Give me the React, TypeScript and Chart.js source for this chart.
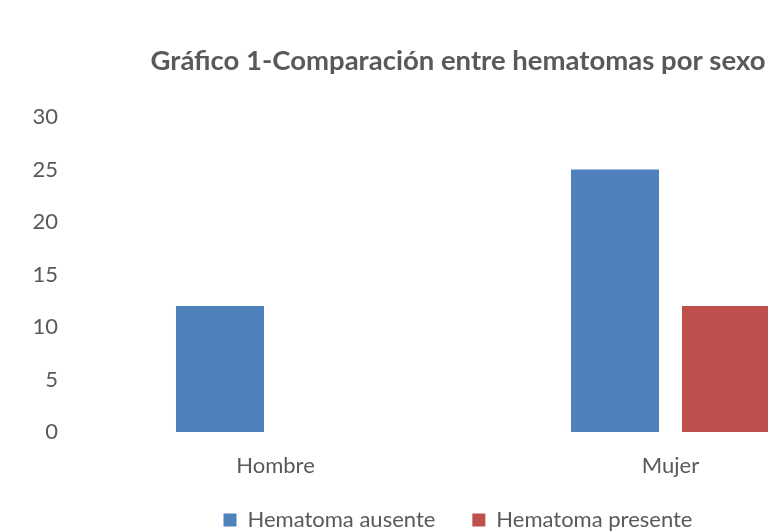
import React, { useEffect, useRef } from "react";
import { Chart, registerables } from "chart.js";

Chart.register(...registerables);

const categories = ["Hombre", "Mujer"];
const seriesNames = ["Hematoma ausente", "Hematoma presente"];
const ausente = [12, 25];
const presente = [0, 12];
const yTicks = [0, 5, 10, 15, 20, 25, 30];
const titleText = "Gráfico 1-Comparación entre hematomas por sexo";

const TEXT = "#595959";
const FONT = "Lato";

const extendXLabelArea = {
  id: "extendXLabelArea",
  afterLayout(chart: any) {
    const x = chart.scales.x;
    if (x) x.bottom = x.bottom + 30;
  },
};

export default function App() {
  const ref = useRef<HTMLCanvasElement>(null);
  useEffect(() => {
    const chart = new Chart(ref.current!, {
      type: "bar",
      data: {
        labels: categories,
        datasets: [
          {
            label: seriesNames[0],
            data: ausente,
            backgroundColor: "#4F81BD",
            categoryPercentage: 0.562,
            barPercentage: 0.793,
          },
          {
            label: seriesNames[1],
            data: presente,
            backgroundColor: "#C0504D",
            categoryPercentage: 0.562,
            barPercentage: 0.793,
          },
        ],
      },
      options: {
        responsive: false,
        animation: false,
        layout: { padding: 0 },
        plugins: {
          title: {
            display: true,
            text: titleText,
            color: TEXT,
            font: { family: FONT, size: 27.5, weight: "bold" },
            padding: { top: 45, bottom: 39 },
          },
          legend: {
            position: "bottom",
            labels: {
              boxWidth: 13,
              boxHeight: 13,
              color: TEXT,
              font: { family: FONT, size: 22 },
              padding: 37,
            },
          },
          tooltip: { enabled: false },
        },
        scales: {
          x: {
            grid: { display: false, drawTicks: false },
            border: { display: false },
            ticks: { color: TEXT, font: { family: FONT, size: 22 }, padding: 21 },
            afterFit: (s: any) => {
              s.height = 40;
            },
          },
          y: {
            min: 0,
            max: 30,
            grid: { display: false, drawTicks: false },
            border: { display: false },
            ticks: { color: TEXT, font: { family: FONT, size: 22 }, padding: 20 },
            afterBuildTicks: (s: any) => {
              s.ticks = yTicks.map((v) => ({ value: v }));
            },
            afterFit: (s: any) => {
              s.width = 78;
            },
          },
          yRight: {
            position: "right",
            display: true,
            grid: { display: false, drawTicks: false },
            border: { display: false },
            ticks: { display: false },
            afterFit: (s: any) => {
              s.width = 48;
            },
          },
        },
      },
      plugins: [extendXLabelArea],
    });
    return () => chart.destroy();
  }, []);
  return (
    <div
      style={{
        position: "fixed",
        left: 0,
        top: 0,
        width: 768,
        height: 531,
        overflow: "hidden",
        background: "#fff",
      }}
    >
      <canvas ref={ref} width={916} height={541} style={{ display: "block" }} />
    </div>
  );
}
